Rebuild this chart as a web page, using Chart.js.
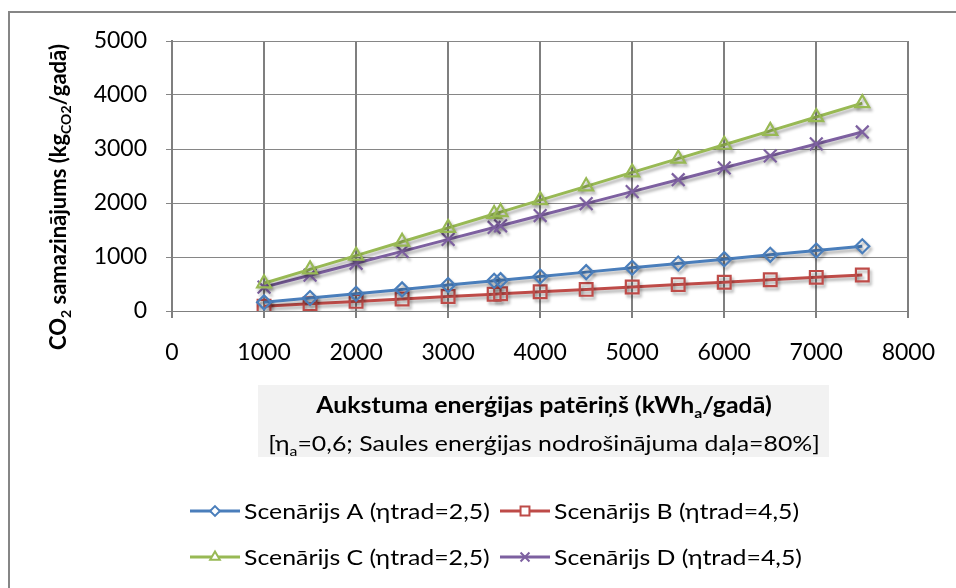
<!DOCTYPE html>
<html><head><meta charset="utf-8">
<script src="https://cdn.jsdelivr.net/npm/chart.js@4"></script>
<style>html,body{margin:0;padding:0;background:#fff}#wrap{width:956px;height:588px;position:relative}</style>
</head><body><div id="wrap"><canvas id="c" width="956" height="588"></canvas></div>
<script>
const energy = [1000,1500,2000,2500,3000,3500,3570,4000,4500,5000,5500,6000,6500,7000,7500];
const scenA = [160,240,320,400,480,560,571,640,720,800,880,960,1040,1120,1200];
const scenB = [89,133,178,222,267,311,318,356,400,445,489,534,578,623,667];
const scenC = [513,770,1026,1283,1540,1796,1832,2053,2309,2566,2822,3079,3336,3592,3849];
const scenD = [442,663,884,1105,1326,1547,1578,1768,1989,2210,2431,2652,2873,3094,3315];
const seriesNames = ['Scenārijs A (ηtrad=2,5)','Scenārijs B (ηtrad=4,5)','Scenārijs C (ηtrad=2,5)','Scenārijs D (ηtrad=4,5)'];
const xTickValues = [0,1000,2000,3000,4000,5000,6000,7000,8000];
const yTickValues = [0,1000,2000,3000,4000,5000];
const yTitleParts = [['CO',0],['2',1],[' samazinājums (kg',0],['CO2',1],['/gadā)',0]];
const xTitleLine1 = [['Aukstuma enerģijas patēriņš (kWh',0],['a',1],['/gadā)',0]];
const xTitleLine2 = [['[η',0],['a',1],['=0,6; Saules enerģijas nodrošinājuma daļa=80%]',0]];

const colors = ['#4a7ebb','#be4b48','#98b954','#7d60a0'];
const styles = ['rectRot','rect','triangle','crossRot'];
const radii = [7,9,8,9];
const FONT = 'Lato, "Open Sans", sans-serif';
const SX = 1.13;

function pts(ys){ return energy.map((x,i)=>({x:x,y:ys[i]})); }
const allSeries = [scenA,scenB,scenC,scenD];

function drawRich(ctx, parts, cx, by, size, weight, sx, align){
  const subSize = Math.round(size*0.62);
  let w = 0;
  parts.forEach(p=>{ ctx.font = weight+' '+(p[1]?subSize:size)+'px '+FONT; w += ctx.measureText(p[0]).width; });
  ctx.save(); ctx.translate(cx, by); ctx.scale(sx||1, 1);
  let x = align==='left' ? 0 : -w/2;
  ctx.textAlign='left'; ctx.textBaseline='alphabetic';
  parts.forEach(p=>{
    ctx.font = weight+' '+(p[1]?subSize:size)+'px '+FONT;
    ctx.fillText(p[0], x, (p[1]? size*0.22:0));
    x += ctx.measureText(p[0]).width;
  });
  ctx.restore();
  return w;
}

function marker(ctx, style, x, y, r, color){
  ctx.save(); ctx.strokeStyle=color; ctx.lineWidth=2; ctx.beginPath();
  if(style==='rectRot'){ ctx.moveTo(x,y-r);ctx.lineTo(x+r,y);ctx.lineTo(x,y+r);ctx.lineTo(x-r,y);ctx.closePath(); ctx.fillStyle='#fff'; ctx.fill(); }
  else if(style==='rect'){ const s=r*0.707; ctx.rect(x-s,y-s,2*s,2*s); ctx.fillStyle='#fff'; ctx.fill(); }
  else if(style==='triangle'){ ctx.moveTo(x,y-r);ctx.lineTo(x+r*0.866,y+r*0.5);ctx.lineTo(x-r*0.866,y+r*0.5);ctx.closePath(); ctx.fillStyle='#fff'; ctx.fill(); }
  else { const s=r*0.707; ctx.moveTo(x-s,y-s);ctx.lineTo(x+s,y+s);ctx.moveTo(x+s,y-s);ctx.lineTo(x-s,y+s); }
  ctx.stroke(); ctx.restore();
}

const decor = {
  id:'decor',
  beforeDraw(chart){
    const ctx=chart.ctx; ctx.save();
    ctx.fillStyle='#fff'; ctx.fillRect(0,0,956,588);
    ctx.strokeStyle='#868686'; ctx.lineWidth=2;
    ctx.beginPath(); ctx.moveTo(9,600); ctx.lineTo(9,12); ctx.lineTo(960,12); ctx.stroke();
    ctx.fillStyle='#f2f2f2'; ctx.fillRect(258,385,571,72);
    ctx.restore();
  },
  beforeDatasetsDraw(chart){
    const ctx=chart.ctx; ctx.save();
    ctx.shadowColor='rgba(0,0,0,0.3)'; ctx.shadowBlur=3; ctx.shadowOffsetX=2; ctx.shadowOffsetY=3;
  },
  afterDatasetsDraw(chart){ chart.ctx.restore(); },
  afterDraw(chart){
    const ctx=chart.ctx; ctx.save(); ctx.fillStyle='#000';
    // y title
    ctx.save(); ctx.translate(66,197); ctx.rotate(-Math.PI/2);
    drawRich(ctx, yTitleParts, 0, 0, 22, 'bold', 1);
    ctx.restore();
    // x title
    drawRich(ctx, xTitleLine1, 544, 413, 22, 'bold', SX);
    drawRich(ctx, xTitleLine2, 544, 451, 22, 'normal', SX);
    // legend
    const pos = [[190,511],[500,511],[190,557],[500,557]];
    chart.data.datasets.forEach((ds,i)=>{
      const [lx,ly]=pos[i];
      ctx.strokeStyle=colors[i]; ctx.lineWidth=3;
      ctx.beginPath(); ctx.moveTo(lx,ly); ctx.lineTo(lx+50,ly); ctx.stroke();
      marker(ctx, styles[i], lx+25, ly, radii[i]*0.7, colors[i]);
      ctx.fillStyle='#000';
      drawRich(ctx, [[ds.label,0]], lx+54, ly+8, 22, 'normal', SX, 'left');
    });
    ctx.restore();
  }
};

new Chart(document.getElementById('c'), {
  type:'line',
  data:{ datasets: allSeries.map((s,i)=>({
    label: seriesNames[i], data: pts(s),
    borderColor: colors[i], borderWidth: 3,
    pointStyle: styles[i], pointRadius: radii[i], pointBorderWidth: 2.2,
    pointBorderColor: colors[i], pointBackgroundColor: 'rgba(0,0,0,0)',
    pointHoverRadius: radii[i], tension: 0
  }))},
  options:{
    responsive:false, animation:false, devicePixelRatio:1,
    layout:{ padding:{ left:0, top:41, right:45, bottom:217 } },
    plugins:{ legend:{display:false}, tooltip:{enabled:false} },
    scales:{
      x:{ type:'linear', min:0, max:8000,
        afterBuildTicks(s){ s.ticks = xTickValues.map(v=>({value:v})); },
        afterFit(s){ s.height = 60; },
        ticks:{ font:{family:FONT,size:23}, color:'#000', padding:21, maxRotation:0,
          callback:(v)=>String(v) },
        grid:{ color:'#7f7f7f', lineWidth:2, tickLength:7, drawTicks:true },
        border:{ display:true, color:'#7f7f7f', width:1 }
      },
      y:{ min:0, max:5000,
        afterBuildTicks(s){ s.ticks = yTickValues.map(v=>({value:v})); },
        afterFit(s){ s.width = 172; },
        ticks:{ font:{family:FONT,size:23}, color:'#000', padding:19, callback:(v)=>String(v) },
        grid:{ color:'#868686', lineWidth:1, tickLength:6, drawTicks:true },
        border:{ display:true, color:'#7f7f7f', width:2 }
      }
    }
  },
  plugins:[decor]
});
</script></body></html>
